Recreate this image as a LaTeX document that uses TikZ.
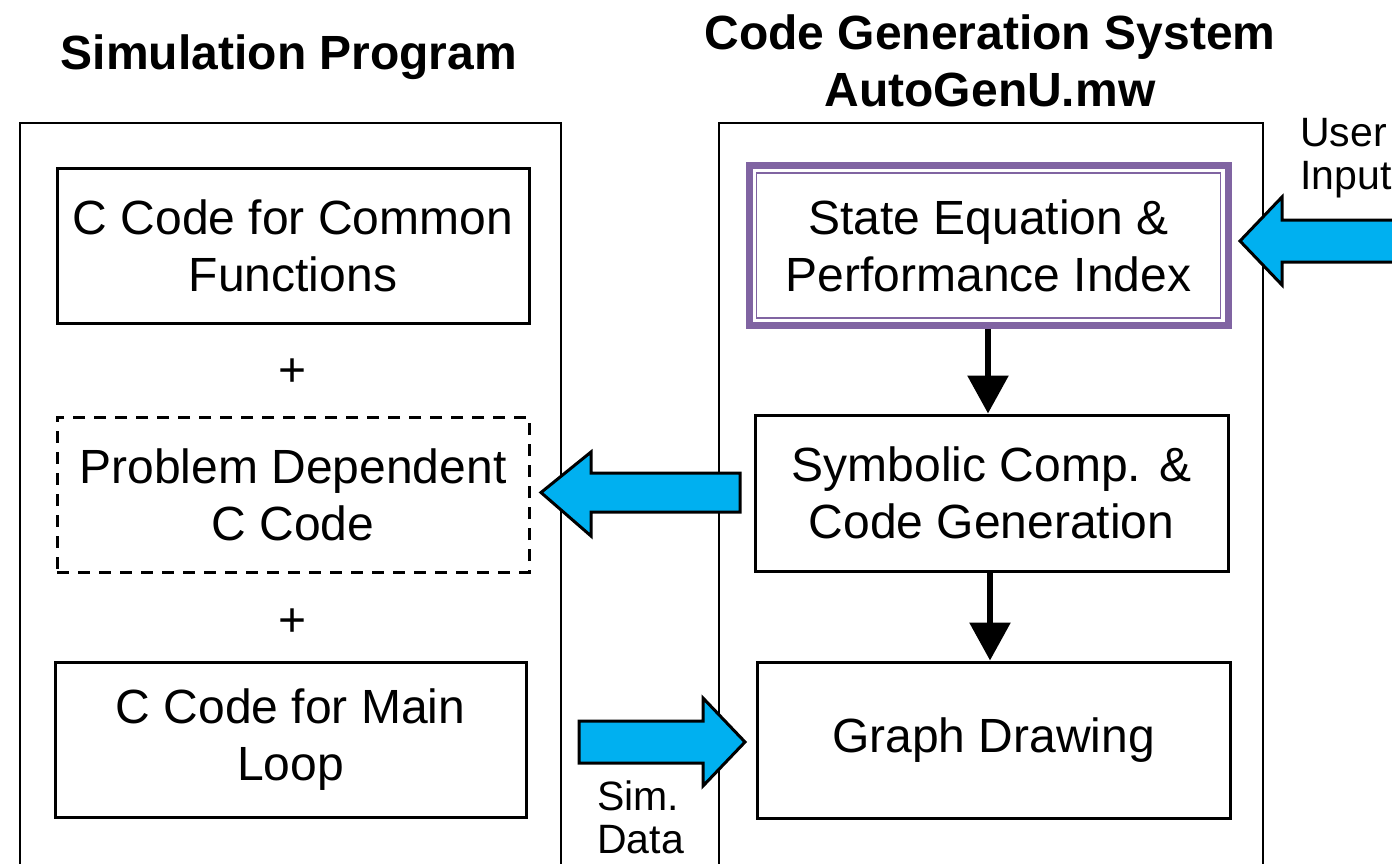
\documentclass[tikz,border=0pt]{standalone}
\usepackage{fontspec}
\setmainfont{Liberation Sans}
\usetikzlibrary{arrows.meta,calc}
\definecolor{arrowblue}{HTML}{00B0F0}
\definecolor{boxpurple}{HTML}{8064A2}
\begin{document}
\begin{tikzpicture}[x=1pt,y=-1pt,
  container/.style={draw=black,line width=1.5pt},
  codebox/.style={draw=black,line width=3pt,minimum width=472pt,minimum height=155pt,align=center,inner sep=0pt,
    font=\fontsize{48}{57}\selectfont},
  dashbox/.style={codebox,dash pattern=on 12pt off 9pt},
  titletext/.style={font=\fontsize{48}{57}\selectfont\bfseries,align=center},
  plustext/.style={font=\fontsize{48}{57}\selectfont},
  smalltext/.style={font=\fontsize{41}{48}\selectfont,align=left,anchor=west,inner sep=0pt},
  flowarrow/.style={draw=black,line width=6pt,-{Triangle[width=40pt,length=38pt]}},
  blockarrow/.style={draw=black,line width=3pt,fill=arrowblue,line join=miter}]
\useasboundingbox (0,0) rectangle (1392,864);
\clip (0,0) rectangle (1392,864);
% containers
\draw[container] (20,870) -- (20,123) -- (561,123) -- (561,870);
\draw[container] (719,870) -- (719,123) -- (1263,123) -- (1263,870);
% titles
\node[titletext] (t1) at (289,57) {Simulation Program};
\node[titletext] (t2) at (990,61) {Code Generation System\\AutoGenU.mw};
% left boxes
\node[codebox] (common) at (293,245.5) {C Code for Common\\Functions};
\node[plustext] (plus1) at (293,373) {+};
\node[dashbox] (problem) at (293,494.5) {Problem Dependent\\C Code};
\node[plustext] (plus2) at (293,623) {+};
\node[codebox,minimum width=471pt] (mainloop) at (290.5,739.5) {C Code for Main\\Loop};
% right boxes
\node[codebox,draw=none,minimum width=483pt,minimum height=164pt] (stateeq) at (988.5,245.5) {State Equation \&\\Performance Index};
\draw[boxpurple,line width=7pt] ($(stateeq.south west)+(3.5,-3.5)$) rectangle ($(stateeq.north east)+(-3.5,3.5)$);
\draw[boxpurple,line width=1.5pt] ($(stateeq.south west)+(11,-11)$) rectangle ($(stateeq.north east)+(-11,11)$);
\node[codebox,minimum width=473pt,minimum height=156pt] (symbolic) at (991.5,493) {Symbolic Comp. \&\\Code Generation};
\node[codebox,minimum width=473pt,minimum height=156pt] (graph) at (993.5,740) {Graph Drawing};
% black arrows
\draw[flowarrow] (stateeq.south -| 988,0) -- (symbolic.north -| 988,0);
\draw[flowarrow] (symbolic.south -| 990,0) -- (graph.north -| 990,0);
% blue block arrows
\draw[blockarrow] (740,473) -- (591,473) -- (591,452) -- (541,492.5) -- (591,536) -- (591,512) -- (740,512) -- cycle;
\draw[blockarrow] (579,721) -- (703,721) -- (703,698) -- (745,742) -- (703,786) -- (703,763) -- (579,763) -- cycle;
\draw[blockarrow] (1400,220) -- (1282,220) -- (1282,197) -- (1240,241) -- (1282,285) -- (1282,262) -- (1400,262) -- cycle;
% labels
\node[smalltext] (user) at (1300,133) {User};
\node[smalltext] (input) at (1300,180) {Input};
\node[smalltext] (sim) at (597,796) {Sim.};
\node[smalltext] (data) at (597,840) {Data};
\end{tikzpicture}
\end{document}
